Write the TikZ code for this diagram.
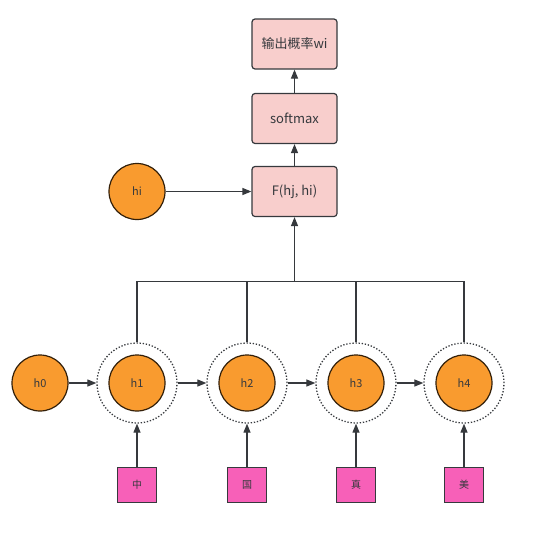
\documentclass[tikz,border=0pt]{standalone}
\usepackage{fontspec}
\setmainfont{Noto Sans CJK SC}
\usepackage{xcolor}
\usepackage{tikz}
\usetikzlibrary{arrows.meta,calc}
\definecolor{boxpink}{HTML}{F8CECC}
\definecolor{statefill}{HTML}{F99B2F}
\definecolor{wordfill}{HTML}{F760B8}
\definecolor{edgegray}{HTML}{36393D}
\tikzset{outbox/.style={draw=edgegray, fill=boxpink, text=edgegray, rectangle, rounded corners=3pt, line width=1.2pt, minimum width=85pt, minimum height=50pt, font=\fontsize{13}{15}\selectfont}}
\tikzset{state/.style={draw=black!80!statefill, fill=statefill, text=edgegray, circle, line width=1.2pt, minimum size=56pt, inner sep=0pt, font=\fontsize{11}{13}\selectfont}}
\tikzset{ring/.style={draw=edgegray, circle, line width=1.3pt, dash pattern=on 1.3pt off 1.8pt, minimum size=80pt, inner sep=0pt}}
\tikzset{word/.style={draw=edgegray, fill=wordfill, text=edgegray, rectangle, line width=1.2pt, minimum width=39pt, minimum height=35pt, inner sep=0pt, font=\fontsize{10}{12}\selectfont}}
\tikzset{line/.style={draw=edgegray, line width=1.2pt, -{Triangle[length=9pt, width=7pt]}}}
\tikzset{bus/.style={draw=edgegray, line width=1.2pt}}

\begin{document}
\begin{tikzpicture}[x=1pt, y=-1pt]
		\useasboundingbox (0,0) rectangle (534,533);
		\node [outbox] (prob) at (294.5,44) {输出概率wi};
		\node [outbox, below of=prob, node distance =74.5pt] (soft) {softmax};
		\node [outbox, below of=soft, node distance =73pt] (score) {F(hj, hi)};
		\node [state, left of=score, node distance =157.5pt] (hi) {hi};
		
		\node [state] (h0) at (40,383) {h0};
		\node [state, right of=h0, node distance =97pt] (h1) {h1};
		\node [state, right of=h1, node distance =110pt] (h2) {h2};
		\node [state, right of=h2, node distance =109pt] (h3) {h3};
		\node [state, right of=h3, node distance =108pt] (h4) {h4};
		
		% dotted rings round the hidden states
		\node [ring] (r1) at (h1) {};
		\node [ring] (r2) at (h2) {};
		\node [ring] (r3) at (h3) {};
		\node [ring] (r4) at (h4) {};
		
		\node [word, below of=h1, node distance =102pt] (w1) {中};
		\node [word, below of=h2, node distance =102pt] (w2) {国};
		\node [word, below of=h3, node distance =102pt] (w3) {真};
		\node [word, below of=h4, node distance =102pt] (w4) {美};
		
		\coordinate (join) at ($(score.south)+(0,64)$);
		
		\path [line] (soft) -- (prob);
		\path [line] (score) -- (soft);
		\path [line] (hi) -- (score);
		\path [line] (join) -- (score);
		
		\path [bus] (r1.north) |- (join) -| (r4.north);
		\path [bus] (r2.north) -- (r2.north |- join);
		\path [bus] (r3.north) -- (r3.north |- join);
		
		\path [line] (h0) -- (r1);
		\path [line] (r1) -- (r2);
		\path [line] (r2) -- (r3);
		\path [line] (r3) -- (r4);
		
		\path [line] (w1) -- (r1);
		\path [line] (w2) -- (r2);
		\path [line] (w3) -- (r3);
		\path [line] (w4) -- (r4);
		
		\end{tikzpicture}
\end{document}
